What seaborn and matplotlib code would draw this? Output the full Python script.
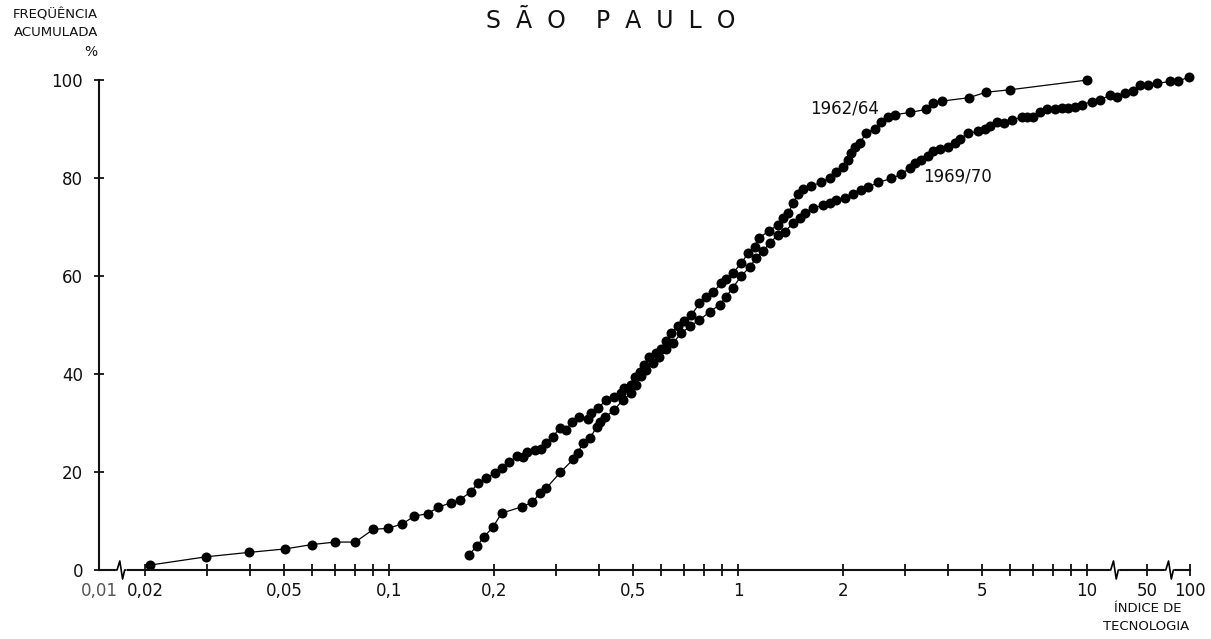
import numpy as np
import pandas as pd
import matplotlib
matplotlib.use("Agg")
import matplotlib.pyplot as plt
import matplotlib.transforms as mtransforms
from matplotlib.lines import Line2D
from matplotlib.ticker import FixedLocator, FixedFormatter, NullLocator
import seaborn as sns

# ---------------- data ----------------
series_names = ["1962/64", "1969/70"]

x62 = [0.0206, 0.0299, 0.0397, 0.0503, 0.0601, 0.0700, 0.0799, 0.0900, 0.099, 0.109,
       0.118, 0.129, 0.138, 0.150, 0.159, 0.171, 0.180, 0.190, 0.201, 0.211,
       0.221, 0.233, 0.241, 0.249, 0.261, 0.273, 0.282, 0.294, 0.308, 0.321,
       0.334, 0.351, 0.371, 0.379, 0.396, 0.419, 0.442, 0.462, 0.472, 0.494,
       0.508, 0.522, 0.539, 0.557, 0.583, 0.602, 0.622, 0.643, 0.672, 0.702,
       0.734, 0.775, 0.807, 0.847, 0.895, 0.925, 0.966, 1.021, 1.067, 1.115,
       1.145, 1.226, 1.301, 1.345, 1.390, 1.437, 1.485, 1.535, 1.622, 1.733,
       1.830, 1.913, 1.998, 2.066, 2.112, 2.159, 2.232, 2.333, 2.465, 2.576,
       2.691, 2.812, 3.120, 3.467, 3.622, 3.853, 4.596, 5.131, 6.013, 10.15]
y62 = [1.0, 2.7, 3.6, 4.3, 5.2, 5.7, 5.7, 8.3, 8.5, 9.4,
       11.0, 11.5, 12.8, 13.7, 14.3, 15.9, 17.8, 18.8, 19.7, 20.9,
       22.0, 23.3, 23.0, 24.0, 24.5, 24.7, 25.9, 27.2, 28.9, 28.6,
       30.3, 31.2, 30.8, 32.0, 33.0, 34.7, 35.4, 36.1, 37.1, 37.8,
       39.3, 40.5, 41.8, 43.4, 44.2, 45.2, 46.8, 48.3, 49.7, 50.9,
       52.0, 54.4, 55.7, 56.7, 58.5, 59.4, 60.6, 62.6, 64.6, 66.0,
       67.7, 69.2, 70.4, 71.8, 72.8, 74.8, 76.7, 77.7, 78.4, 79.1,
       80.1, 81.3, 82.3, 83.7, 85.0, 86.4, 87.2, 89.1, 90.1, 91.5,
       92.5, 92.9, 93.4, 94.0, 95.4, 95.7, 96.4, 97.5, 98.0, 100.0]

x69 = [0.169, 0.178, 0.187, 0.198, 0.210, 0.240, 0.257, 0.271, 0.282, 0.309,
       0.337, 0.347, 0.359, 0.377, 0.393, 0.402, 0.416, 0.442, 0.467, 0.494,
       0.510, 0.528, 0.545, 0.570, 0.595, 0.622, 0.650, 0.687, 0.726, 0.775,
       0.829, 0.885, 0.925, 0.966, 1.021, 1.079, 1.128, 1.178, 1.231, 1.301,
       1.360, 1.437, 1.502, 1.552, 1.639, 1.751, 1.830, 1.913, 2.021, 2.135,
       2.257, 2.358, 2.519, 2.753, 2.939, 3.105, 3.210, 3.355, 3.505, 3.622,
       3.786, 4.000, 4.181, 4.322, 4.565, 4.876, 5.097, 5.269, 5.507, 5.778,
       6.080, 6.495, 6.713, 7.013, 7.330, 7.663, 8.094, 8.460, 8.837, 9.237,
       9.656, 11.34, 14.17, 18.53, 22.54, 27.72, 34.63, 41.45, 51.06, 58.46,
       72.44, 82.82, 98.9]
y69 = [3.1, 4.8, 6.8, 8.7, 11.6, 12.9, 13.8, 15.8, 16.7, 19.9,
       22.6, 23.9, 25.9, 27.0, 29.2, 30.3, 31.2, 32.7, 34.7, 36.1,
       37.8, 39.5, 40.8, 42.2, 43.5, 45.2, 46.3, 48.3, 49.7, 51.0,
       52.7, 54.1, 55.8, 57.6, 60.0, 61.8, 63.7, 65.1, 66.7, 68.4,
       69.0, 70.8, 71.8, 72.8, 73.8, 74.5, 75.0, 75.5, 75.9, 76.7,
       77.6, 78.1, 79.1, 79.9, 80.8, 82.0, 83.0, 83.7, 84.4, 85.6,
       85.9, 86.3, 87.1, 88.0, 89.1, 89.5, 90.1, 90.6, 91.5, 91.3,
       91.8, 92.4, 92.5, 92.4, 93.5, 94.0, 94.1, 94.2, 94.2, 94.4,
       94.9, 95.6, 95.9, 96.9, 96.6, 97.3, 97.8, 99.0, 99.0, 99.3,
       99.7, 99.7, 100.7]

x_ticks = [0.01, 0.02, 0.03, 0.04, 0.05, 0.06, 0.07, 0.08, 0.09, 0.1,
           0.2, 0.3, 0.4, 0.5, 0.6, 0.7, 0.8, 0.9, 1,
           2, 3, 4, 5, 6, 7, 8, 9, 10, 50, 100]
x_labeled = {0.01: "0,01", 0.02: "0,02", 0.05: "0,05", 0.1: "0,1", 0.2: "0,2",
             0.5: "0,5", 1: "1", 2: "2", 5: "5", 10: "10", 50: "50", 100: "100"}
y_ticks = [0, 20, 40, 60, 80, 100]
axis_breaks = [0.0135, 20.0, 70.0]

# ---------------- broken log scale ----------------
U = np.array([-2.0, np.log10(0.02), 1.0, np.log10(50), 2.0])
P = np.array([100.0, 146.4, 1087.0, 1147.0, 1190.0])


def fwd(x):
    x = np.asarray(x, dtype=float)
    u = np.log10(np.where(x > 0, x, 1e-12))
    p = np.interp(u, U, P)
    p = np.where(u < U[0], P[0] + (u - U[0]) * (P[1] - P[0]) / (U[1] - U[0]), p)
    p = np.where(u > U[-1], P[-1] + (u - U[-1]) * (P[-1] - P[-2]) / (U[-1] - U[-2]), p)
    return p


def inv(p):
    p = np.asarray(p, dtype=float)
    u = np.interp(p, P, U)
    u = np.where(p < P[0], U[0] + (p - P[0]) * (U[1] - U[0]) / (P[1] - P[0]), u)
    u = np.where(p > P[-1], U[-1] + (p - P[-1]) * (U[-1] - U[-2]) / (P[-1] - P[-2]), u)
    return 10.0 ** u


df = pd.concat([
    pd.DataFrame({"indice": x62, "freq": y62, "serie": series_names[0]}),
    pd.DataFrame({"indice": x69, "freq": y69, "serie": series_names[1]}),
], ignore_index=True)

sns.set_style("white")
plt.rcParams["font.family"] = ["DejaVu Sans"]

W, H = 1211, 639
fig = plt.figure(figsize=(W / 100, H / 100), dpi=100)
fig.patch.set_facecolor("white")
ax = fig.add_axes([99 / W, 1 - 570 / H, (1190 - 99) / W, (570 - 80) / H])

sns.lineplot(data=df, x="indice", y="freq", hue="serie",
             palette=["black", "black"], estimator=None, sort=False,
             marker="o", markersize=7.2, markeredgewidth=0, linewidth=0.9,
             legend=False, ax=ax)
for ln in ax.lines:
    ln.set_clip_on(False)

ax.set_xscale("function", functions=(fwd, inv))
ax.set_xlim(0.01, 100)
ax.set_ylim(0, 100)
ax.set_xlabel("")
ax.set_ylabel("")

ax.xaxis.set_major_locator(FixedLocator(x_ticks))
ax.xaxis.set_major_formatter(FixedFormatter([x_labeled.get(t, "") for t in x_ticks]))
ax.xaxis.set_minor_locator(NullLocator())
ax.yaxis.set_major_locator(FixedLocator(y_ticks))
ax.yaxis.set_minor_locator(NullLocator())

for s in ["top", "right"]:
    ax.spines[s].set_visible(False)
for s in ["left", "bottom"]:
    ax.spines[s].set_linewidth(1.5)
    ax.spines[s].set_color("#111111")

ax.tick_params(axis="x", bottom=True, direction="inout", length=8, width=1.3, pad=5,
               labelsize=12, colors="#111111")
ax.tick_params(axis="y", left=True, direction="inout", length=7, width=1.3, pad=8,
               labelsize=12, colors="#111111")
ax.xaxis.get_major_ticks()[0].tick1line.set_visible(False)
ax.xaxis.get_major_ticks()[0].label1.set_color("#555555")

# axis break marks (small zigzags on the x axis)
tr = mtransforms.blended_transform_factory(ax.transData, ax.transAxes)
fig.canvas.draw()
for xb in axis_breaks:
    ox, oy = tr.transform((xb, 0)) / fig.dpi
    t = fig.dpi_scale_trans + mtransforms.ScaledTranslation(ox, oy, fig.dpi_scale_trans)
    fig.add_artist(Line2D(np.array([-1.5, 4.0]) / 72.0, [0, 0], color="white",
                          linewidth=3, transform=t, clip_on=False))
    fig.add_artist(Line2D(np.array([-3.0, -1.5, 0.5, 2.5, 4.0, 5.0]) / 72.0,
                          np.array([0.0, 0.0, 6.5, -6.5, 0.0, 0.0]) / 72.0,
                          color="black", linewidth=1.2, transform=t, clip_on=False))

# series labels
ax.text(2.02, 94.1, "1962/64", ha="center", va="center", fontsize=12, color="#111111")
ax.text(4.26, 80.4, "1969/70", ha="center", va="center", fontsize=12, color="#111111")

# titles and axis captions
fig.text(611 / W, 1 - 21 / H, "S  Ã  O    P  A  U  L  O", ha="center", va="center",
         fontsize=17, color="#111111")
fig.text(98 / W, 1 - 15 / H, "FREQÜÊNCIA", ha="right", va="center", fontsize=9.5,
         color="#111111")
fig.text(98 / W, 1 - 32 / H, "ACUMULADA", ha="right", va="center", fontsize=9.5,
         color="#111111")
fig.text(97 / W, 1 - 52 / H, "%", ha="right", va="center", fontsize=10,
         color="#111111")
fig.text(1148 / W, 1 - 608 / H, "ÍNDICE DE", ha="center", va="center", fontsize=9.5,
         color="#111111")
fig.text(1146 / W, 1 - 627 / H, "TECNOLOGIA", ha="center", va="center", fontsize=9.5,
         color="#111111")

fig.savefig("out.png", dpi=100, facecolor="white")
